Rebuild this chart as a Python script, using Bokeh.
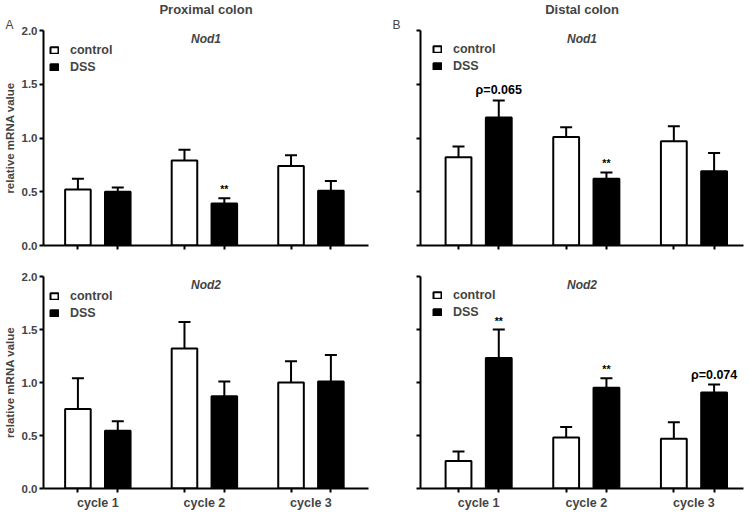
from bokeh.plotting import figure
from bokeh.layouts import column, row
from bokeh.models import (Range1d, FixedTicker, Whisker, TeeHead, ColumnDataSource,
                          Label, Title, PrintfTickFormatter)
from bokeh.embed import file_html
from bokeh.resources import INLINE
from bokeh.core.properties import value

FONT = "Liberation Sans"

cycles = ["cycle 1", "cycle 2", "cycle 3"]
y_ticks = [0.0, 0.5, 1.0, 1.5, 2.0]

# Proximal colon, Nod1
prox_nod1_control = [0.52, 0.79, 0.74]
prox_nod1_control_sem = [0.10, 0.10, 0.10]
prox_nod1_dss = [0.50, 0.39, 0.51]
prox_nod1_dss_sem = [0.04, 0.05, 0.09]
prox_nod1_marks = ["", "**", ""]

# Distal colon, Nod1
dist_nod1_control = [0.82, 1.01, 0.97]
dist_nod1_control_sem = [0.10, 0.09, 0.14]
dist_nod1_dss = [1.19, 0.62, 0.69]
dist_nod1_dss_sem = [0.16, 0.06, 0.17]
dist_nod1_marks = ["\u03c1=0.065", "**", ""]

# Proximal colon, Nod2
prox_nod2_control = [0.75, 1.32, 1.00]
prox_nod2_control_sem = [0.29, 0.25, 0.20]
prox_nod2_dss = [0.545, 0.87, 1.01]
prox_nod2_dss_sem = [0.09, 0.14, 0.25]
prox_nod2_marks = ["", "", ""]

# Distal colon, Nod2
dist_nod2_control = [0.26, 0.48, 0.47]
dist_nod2_control_sem = [0.09, 0.10, 0.155]
dist_nod2_dss = [1.23, 0.95, 0.905]
dist_nod2_dss_sem = [0.27, 0.09, 0.075]
dist_nod2_marks = ["**", "**", "\u03c1=0.074"]


def panel(ctrl, ctrl_sem, dss, dss_sem, marks, gene, width, height,
          b_left, b_right, b_top, b_bottom, xr, ylabels, xlabels, leg_margin=6, leg_top=None,
          letter=None, letter_offset=0, title=None, title_offset=0):
    p = figure(width=width, height=height, output_backend="svg", toolbar_location=None,
               x_range=Range1d(*xr), y_range=Range1d(0, 2.0),
               min_border_left=b_left, min_border_right=b_right,
               min_border_top=b_top, min_border_bottom=b_bottom)
    p.outline_line_color = None
    p.grid.visible = False
    p.background_fill_color = "white"

    centers = [i + 1 for i in range(len(cycles))]
    off, bw = 0.187, 0.24
    cx = [c - off for c in centers]
    dx = [c + off for c in centers]
    src_c = ColumnDataSource(dict(x=cx, top=ctrl, up=[m + s for m, s in zip(ctrl, ctrl_sem)]))
    src_d = ColumnDataSource(dict(x=dx, top=dss, up=[m + s for m, s in zip(dss, dss_sem)],
                                  mark=marks,
                                  msize=["10.5px" if m == "**" else "12.5px" for m in marks]))

    for src, fill, lab in [(src_c, "white", "control"), (src_d, "black", "DSS")]:
        p.add_layout(Whisker(base="x", lower="top", upper="up", source=src,
                             line_width=2, line_color="black",
                             upper_head=TeeHead(size=12, line_width=2, line_color="black"),
                             lower_head=None))
        p.vbar(x="x", top="top", width=bw, source=src, fill_color=fill,
               line_color="black", line_width=2, legend_label=lab)

    p.text(x="x", y="up", text="mark", source=src_d, text_align="center",
           text_baseline="bottom", y_offset=-3, text_font=value(FONT),
           text_font_style="bold", text_font_size="msize", text_color="black")

    lg = p.legend[0]
    lg.location = "top_left"
    lg.border_line_color = None
    lg.background_fill_alpha = 0
    if leg_top:
        lg.title = " "
        lg.title_text_font_size = leg_top
        lg.title_standoff = 0
    lg.label_text_font = FONT
    lg.label_text_font_style = "bold"
    lg.label_text_font_size = "12.5px"
    lg.glyph_width = 10
    lg.glyph_height = 8
    lg.label_height = 14
    lg.label_standoff = 11
    lg.spacing = 3
    lg.margin = leg_margin
    lg.padding = 8

    midx = (xr[0] + xr[1]) / 2
    p.add_layout(Label(x=midx, y=2.0, y_offset=-8, text=gene, text_align="center",
                       text_baseline="middle", text_font=FONT, text_font_style="bold italic",
                       text_font_size="12px"))
    if letter:
        p.add_layout(Title(text=letter, align="left", offset=letter_offset, standoff=-2,
                           text_font=FONT, text_font_style="normal",
                           text_font_size="12px"), "above")
    if title:
        p.add_layout(Title(text=title, align="center", offset=title_offset, standoff=-1,
                           text_font=FONT, text_font_style="bold",
                           text_font_size="13px"), "above")

    ya = p.yaxis[0]
    ya.formatter = PrintfTickFormatter(format="%.1f")
    ya.axis_line_width = 2
    ya.major_tick_line_width = 2
    ya.major_tick_out = 4
    ya.major_tick_in = 0
    ya.minor_tick_line_width = 2
    ya.minor_tick_in = 0
    ya.major_label_standoff = 2
    ya.major_label_text_font = FONT
    ya.major_label_text_font_style = "bold"
    ya.major_label_text_font_size = "11.5px"
    if ylabels:
        ya.ticker = FixedTicker(ticks=y_ticks)
        ya.minor_tick_out = 0
        ya.axis_label = "relative mRNA value"
        ya.axis_label_text_font = FONT
        ya.axis_label_text_font_style = "bold"
        ya.axis_label_text_font_size = "11.5px"
        ya.axis_label_standoff = 3
    else:
        # ticks without labels
        ya.ticker = FixedTicker(ticks=[], minor_ticks=y_ticks)
        ya.minor_tick_out = 4

    xa = p.xaxis[0]
    xa.axis_line_width = 2
    xa.major_tick_out = 0
    xa.major_tick_in = 0
    xa.minor_tick_out = 4
    xa.minor_tick_in = 0
    xa.minor_tick_line_width = 2
    xa.major_label_standoff = 3
    xa.major_label_text_font = FONT
    xa.major_label_text_font_style = "bold"
    xa.major_label_text_font_size = "12.5px"
    if xlabels:
        xa.ticker = FixedTicker(ticks=centers, minor_ticks=cx + dx)
        xa.major_label_overrides = {c: n for c, n in zip(centers, cycles)}
    else:
        xa.ticker = FixedTicker(ticks=[], minor_ticks=cx + dx)
        xa.major_label_standoff = 0
    return p


xr_left = (0.49, 3.54)
xr_right = (0.46, 3.46)

p1 = panel(prox_nod1_control, prox_nod1_control_sem, prox_nod1_dss, prox_nod1_dss_sem,
           prox_nod1_marks, "Nod1", 375, 250, 41, 7, 30, 5, xr_left, True, False, 6, "7px",
           letter="A", letter_offset=-38, title="Proximal colon", title_offset=1)
p2 = panel(dist_nod1_control, dist_nod1_control_sem, dist_nod1_dss, dist_nod1_dss_sem,
           dist_nod1_marks, "Nod1", 375, 250, 45, 7, 30, 5, xr_right, False, False, 12, None,
           letter="B", letter_offset=-28, title="Distal colon", title_offset=8)
p3 = panel(prox_nod2_control, prox_nod2_control_sem, prox_nod2_dss, prox_nod2_dss_sem,
           prox_nod2_marks, "Nod2", 375, 262, 41, 7, 26, 22, xr_left, True, True, 6, "7px")
p4 = panel(dist_nod2_control, dist_nod2_control_sem, dist_nod2_dss, dist_nod2_dss_sem,
           dist_nod2_marks, "Nod2", 375, 262, 45, 7, 26, 22, xr_right, False, True, 12, None)

layout = column(row(p1, p2), row(p3, p4))
open("out.html", "w").write(file_html(layout, INLINE))
